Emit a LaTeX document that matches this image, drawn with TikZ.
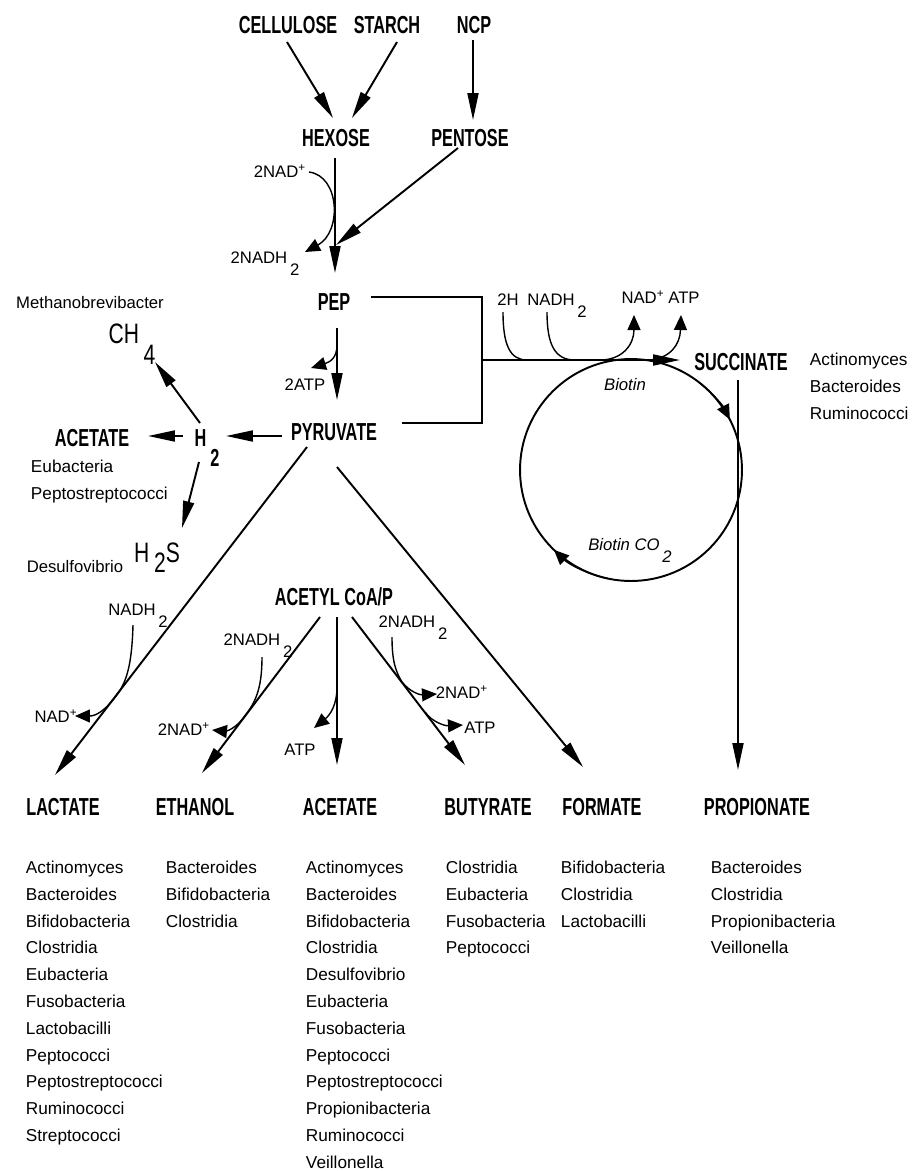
\documentclass[tikz,border=0pt]{standalone}
\usepackage{fontspec}
\setmainfont{Liberation Sans}
\newfontfamily\headfont[FakeStretch=0.66]{Liberation Sans}
\newfontfamily\bigfont[FakeStretch=0.75]{Liberation Sans}
\usetikzlibrary{arrows.meta,positioning}
\newcommand\lowsub[2][1.3ex]{\,\raisebox{-#1}{#2}}
\tikzset{
	-{Triangle[length=0.54cm,width=0.22cm]},
	metab/.style = {font=\headfont\bfseries\fontsize{14}{14}\selectfont, inner sep=1pt, text height=10pt, text depth=0pt},
	bigtext/.style = {font=\bigfont\fontsize{16}{16}\selectfont, inner sep=1pt, text height=11.5pt, text depth=0pt},
	cofac/.style = {font=\fontsize{9.5}{9.5}\selectfont, inner sep=1pt, text height=6.8pt, text depth=0pt},
	bugs/.style = {font=\fontsize{9.8}{15.25}\selectfont, align=left, anchor=north west, inner sep=0pt},
	sidearrow/.style = {-{Triangle[length=0.3cm,width=0.26cm]}, line width=0.8pt},
	noarrow/.style = {-}
}
\begin{document}
\begin{tikzpicture}[x=0.02cm,y=-0.02cm,line width=1.1pt]
    \useasboundingbox (0,0) rectangle (912,1171);

    % substrates and main chain
    \node[metab] (cell) at (288,25) {CELLULOSE};
    \node[metab] (starch) at (387,25) {STARCH};
    \node[metab] (ncp) at (474,25) {NCP};
    \node[metab] (hex) at (336,138) {HEXOSE};
    \node[metab] (pent) at (470,138) {PENTOSE};
    \node[metab] (pep) at (334,302) {PEP};
    \node[metab] (pyr) at (334,432) {PYRUVATE};
    \node[metab] (acoa) at (334,597) {ACETYL CoA/P};
    \node[metab] (succ) at (741,362) {SUCCINATE};

    \node[cofac] (nadA) at (280,172) {2NAD\textsuperscript{+}};
    \node[cofac] (nadhA) at (265,258) {2NADH\lowsub{2}};
    \node[cofac] (atp2) at (305,385) {2ATP};

    % hydrogen side
    \node[cofac] (methano) at (90,303) {Methanobrevibacter};
    \node[bigtext] (ch4) at (132,333) {CH\lowsub[12pt]{4}};
    \node[metab] (h2) at (207,438) {H\lowsub[11pt]{2}};
    \node[metab] (acetL) at (92,438) {ACETATE};
    \node[bugs] (eubbugs) at (30,459) {Eubacteria\\Peptostreptococci};
    \node[bigtext] (h2s) at (157,552) {H\lowsub[6pt]{2}S};
    \node[cofac] (desulf) at (75,567) {Desulfovibrio};

    % succinate cycle
    \coordinate (junc) at (482,360);
    \node[cofac] (h2top) at (508,300) {2H};
    \node[cofac] (nadhtop) at (557,300) {NADH\lowsub{2}};
    \node[cofac] (nadtop) at (643,298) {NAD\textsuperscript{+}};
    \node[cofac] (atptop) at (684,298) {ATP};
    \node[circle, draw, minimum size=4.44cm, inner sep=0pt, outer sep=0pt] (cyc) at (631,470) {};
    \node[cofac, font=\itshape\fontsize{9.5}{9.5}\selectfont] (biotin) at (625,385) {Biotin};
    \node[cofac, font=\itshape\fontsize{9.5}{9.5}\selectfont] (biotinco) at (630,545) {Biotin CO\lowsub{2}};
    \node[bugs] (succbugs) at (809,352) {Actinomyces\\Bacteroides\\Ruminococci};

    % cofactors of the end products
    \node[cofac] (nadhL) at (138,610) {NADH\lowsub{2}};
    \node[cofac] (nadL) at (56,717) {NAD\textsuperscript{+}};
    \node[cofac] (nadhE) at (258,640) {2NADH\lowsub{2}};
    \node[cofac] (nadE) at (184,730) {2NAD\textsuperscript{+}};
    \node[cofac] (atpA) at (300,750) {ATP};
    \node[cofac] (nadhB) at (413,622) {2NADH\lowsub{2}};
    \node[cofac] (nadB) at (462,693) {2NAD\textsuperscript{+}};
    \node[cofac] (atpB) at (480,728) {ATP};

    % end products
    \node[metab] (lact) at (63,807) {LACTATE};
    \node[metab] (eth) at (195,807) {ETHANOL};
    \node[metab] (acet) at (340,807) {ACETATE};
    \node[metab] (but) at (488,807) {BUTYRATE};
    \node[metab] (form) at (602,807) {FORMATE};
    \node[metab] (prop) at (757,807) {PROPIONATE};

    \node[bugs] (lacbugs) at (25,860) {Actinomyces\\Bacteroides\\Bifidobacteria\\Clostridia\\Eubacteria\\Fusobacteria\\Lactobacilli\\Peptococci\\Peptostreptococci\\Ruminococci\\Streptococci};
    \node[bugs] (ethbugs) at (165,860) {Bacteroides\\Bifidobacteria\\Clostridia};
    \node[bugs] (acetbugs) at (305,860) {Actinomyces\\Bacteroides\\Bifidobacteria\\Clostridia\\Desulfovibrio\\Eubacteria\\Fusobacteria\\Peptococci\\Peptostreptococci\\Propionibacteria\\Ruminococci\\Veillonella};
    \node[bugs] (butbugs) at (445,860) {Clostridia\\Eubacteria\\Fusobacteria\\Peptococci};
    \node[bugs] (formbugs) at (560,860) {Bifidobacteria\\Clostridia\\Lactobacilli};
    \node[bugs] (propbugs) at (710,860) {Bacteroides\\Clostridia\\Propionibacteria\\Veillonella};

    % top of the pathway
    \draw ([shift={(-1,17)}]cell.center) -- ([shift={(-3,-20)}]hex.center);
    \draw ([shift={(10,17)}]starch.center) -- ([shift={(16,-20)}]hex.center);
    \draw ([shift={(-1,15)}]ncp.center) -- ([shift={(3,-18)}]pent.center);
    \draw ([shift={(-1,20)}]hex.center) -- ([shift={(1,-29)}]pep.center);
    \draw ([shift={(-12,10)}]pent.center) -- ([shift={(2,-57)}]pep.center);
    \draw[sidearrow] ([shift={(29,0)}]nadA.center) .. controls (340,176) and (342,232) .. ([shift={(40,-6)}]nadhA.center);
    \draw ([shift={(3,26)}]pep.center) -- ([shift={(3,-32)}]pyr.center);
    \draw[sidearrow] ([shift={(3,43)}]pep.center) .. controls (337,358) and (330,362) .. ([shift={(6,-17)}]atp2.center);

    % hydrogen
    \draw ([shift={(-52,4)}]pyr.center) -- ([shift={(19,-2)}]h2.center);
    \draw ([shift={(-7,-15)}]h2.center) -- ([shift={(23,29)}]ch4.center);
    \draw ([shift={(-24,-2)}]h2.center) -- ([shift={(56,-2)}]acetL.center);
    \draw ([shift={(-8,24)}]h2.center) -- ([shift={(25,-24)}]h2s.center);

    % succinate route
    \draw[noarrow] ([shift={(37,-5)}]pep.center) -- ([shift={(148,-5)}]pep.center) -- ([shift={(148,-9)}]pyr.center) -- ([shift={(68,-9)}]pyr.center);
    \draw (junc) -- ([shift={(-61,-2)}]succ.center);
    \draw[noarrow, line width=0.8pt] ([shift={(-5,12)}]h2top.center) .. controls (503,345) and (510,360) .. ([shift={(45,0)}]junc);
    \draw[noarrow, line width=0.8pt] ([shift={(-10,12)}]nadhtop.center) .. controls (547,345) and (555,360) .. ([shift={(93,0)}]junc);
    \draw[sidearrow] ([shift={(118,0)}]junc) .. controls (622,360) and (634,345) .. ([shift={(-9,17)}]nadtop.center);
    \draw[sidearrow] ([shift={(168,0)}]junc) .. controls (670,358) and (680,345) .. ([shift={(-3,17)}]atptop.center);
    \draw[sidearrow] (cyc.52) arc[start angle=52, end angle=27, radius=2.22cm];
    \draw[sidearrow] (cyc.258) arc[start angle=258, end angle=226, radius=2.22cm];
    \draw ([shift={(-3,18)}]succ.center) -- ([shift={(-19,-37)}]prop.center);

    % end products
    \draw ([shift={(-27,15)}]pyr.center) -- ([shift={(-8,-32)}]lact.center);
    \draw[sidearrow] ([shift={(-5,15)}]nadhL.center) .. controls (132,660) and (128,678) .. (119,692) .. controls (105,712) and (95,716) .. ([shift={(19,-1)}]nadL.center);
    \draw ([shift={(-14,20)}]acoa.center) -- ([shift={(7,-34)}]eth.center);
    \draw[sidearrow] ([shift={(4,17)}]nadhE.center) .. controls (262,690) and (255,703) .. (244,717) .. controls (232,733) and (222,731) .. ([shift={(28,0)}]nadE.center);
    \draw ([shift={(3,20)}]acoa.center) -- ([shift={(-3,-42)}]acet.center);
    \draw[sidearrow] ([shift={(3,90)}]acoa.center) .. controls (337,705) and (330,715) .. ([shift={(14,-22)}]atpA.center);
    \draw ([shift={(18,20)}]acoa.center) -- ([shift={(-23,-42)}]but.center);
    \draw[sidearrow] ([shift={(-21,15)}]nadhB.center) .. controls (392,662) and (396,672) .. (402,682) .. controls (410,692) and (420,695) .. ([shift={(-25,1)}]nadB.center);
    \draw[sidearrow] ([shift={(-63,-95)}]but.center) .. controls (432,722) and (445,726) .. ([shift={(-17,-3)}]atpB.center);
    \draw ([shift={(3,35)}]pyr.center) -- ([shift={(-19,-40)}]form.center);

\end{tikzpicture}
\end{document}
